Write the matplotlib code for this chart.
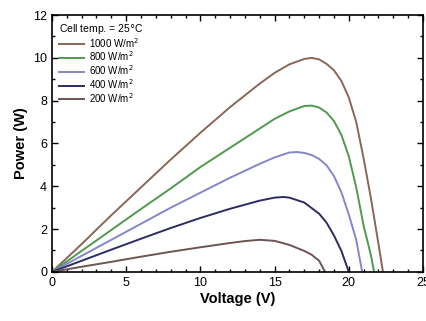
#PV power-voltage curves at different irradiance levels
import numpy as np
import matplotlib.pyplot as plt
from matplotlib.ticker import MultipleLocator

plt.rcParams['font.family'] = ['Liberation Sans', 'DejaVu Sans']

#values
labels = ['1000 W/m$^2$', '800 W/m$^2$', '600 W/m$^2$', '400 W/m$^2$', '200 W/m$^2$']
colors = ['#8a6656', '#4f9a4c', '#8585cc', '#2c2c62', '#6e5454']

v1000 = [0, 2, 4, 6, 8, 10, 12, 14, 15, 16, 17, 17.5, 18, 18.5, 19, 19.5, 20, 20.5, 21, 21.5, 22, 22.3]
p1000 = [0, 1.3, 2.65, 3.95, 5.25, 6.5, 7.7, 8.8, 9.3, 9.7, 9.95, 10.0, 9.93, 9.72, 9.42, 8.92, 8.15, 7.0, 5.3, 3.4, 1.3, 0]

v800 = [0, 2, 4, 6, 8, 10, 12, 14, 15, 16, 17, 17.5, 18, 18.5, 19, 19.5, 20, 20.5, 21, 21.5, 21.7]
p800 = [0, 0.98, 1.96, 2.94, 3.9, 4.9, 5.8, 6.7, 7.15, 7.5, 7.75, 7.77, 7.68, 7.45, 7.05, 6.4, 5.4, 3.95, 2.15, 0.75, 0]

v600 = [0, 2, 4, 6, 8, 10, 12, 14, 15, 16, 16.5, 17, 17.5, 18, 18.5, 19, 19.5, 20, 20.5, 20.9]
p600 = [0, 0.75, 1.5, 2.25, 3.0, 3.7, 4.4, 5.05, 5.35, 5.58, 5.6, 5.56, 5.46, 5.28, 4.98, 4.48, 3.72, 2.68, 1.5, 0]

v400 = [0, 2, 4, 6, 8, 10, 12, 14, 15, 15.6, 16, 17, 18, 18.5, 19, 19.5, 20]
p400 = [0, 0.52, 1.04, 1.55, 2.05, 2.52, 2.95, 3.33, 3.47, 3.5, 3.47, 3.24, 2.72, 2.3, 1.7, 0.98, 0]

v200 = [0, 2, 4, 6, 8, 10, 12, 13, 14, 15, 16, 17, 17.5, 18, 18.4]
p200 = [0, 0.24, 0.47, 0.71, 0.94, 1.15, 1.35, 1.44, 1.5, 1.45, 1.26, 0.98, 0.8, 0.52, 0]

volts = [v1000, v800, v600, v400, v200]
powers = [p1000, p800, p600, p400, p200]

fig = plt.figure(figsize=(4.26, 3.21), dpi=100)
ax = fig.add_axes([0.122, 0.153, 0.871, 0.80])

for v, p, c, lab in zip(volts, powers, colors, labels):
    ax.plot(v, p, color=c, lw=1.4, label=lab, solid_joinstyle='round')

ax.set_xlim(0, 25)
ax.set_ylim(0, 12)
ax.xaxis.set_major_locator(MultipleLocator(5))
ax.xaxis.set_minor_locator(MultipleLocator(1))
ax.yaxis.set_major_locator(MultipleLocator(2))
ax.yaxis.set_minor_locator(MultipleLocator(1))
ax.tick_params(which='both', direction='in', top=True, right=True, width=1.0)
ax.tick_params(which='major', length=4, labelsize=9)
ax.tick_params(which='minor', length=2)
for s in ax.spines.values():
    s.set_linewidth(1.2)

ax.set_xlabel('Voltage (V)', fontsize=10.5, fontweight='bold', labelpad=2)
ax.set_ylabel('Power (W)', fontsize=10.5, fontweight='bold', labelpad=4)

leg = ax.legend(title='Cell temp. = 25$\\degree$C', loc='upper left', frameon=False,
                fontsize=7, title_fontsize=7.5, handlelength=2.6, labelspacing=0.0,
                borderaxespad=0.3, handletextpad=0.5)
leg._legend_box.align = 'left'

fig.savefig('out.png', dpi=100)
